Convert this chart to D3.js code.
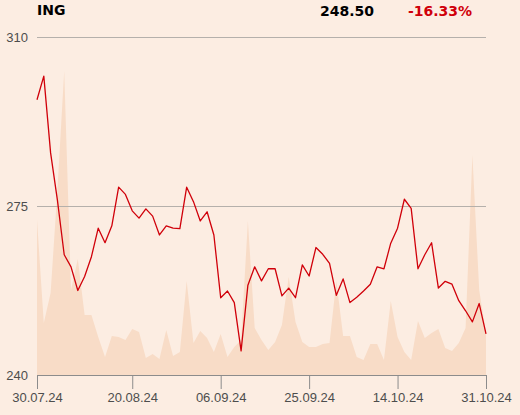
<!DOCTYPE html>
<html>
<head>
<meta charset="utf-8">
<script src="https://cdn.jsdelivr.net/npm/d3@7"></script>
<style>
  body { margin: 0; background: #fcede2; }
  svg { display: block; font-family: "DejaVu Sans", sans-serif; }
</style>
</head>
<body>
<svg id="chart" width="520" height="415"></svg>
<script>
// closing prices, one per trading day
const prices = [
  297.0, 301.9, 286.0, 276.2, 264.9, 262.4, 257.5, 260.4, 264.5, 270.4,
  267.4, 270.9, 278.9, 277.4, 274.0, 272.5, 274.4, 272.9, 269.0, 270.9,
  270.4, 270.3, 278.9, 275.9, 271.9, 273.8, 269.0, 256.0, 257.4, 255.0,
  245.0, 258.6, 262.4, 259.5, 262.0, 262.0, 256.4, 258.0, 256.0, 262.8,
  260.5, 266.4, 265.0, 263.1, 256.5, 259.9, 255.0, 256.1, 257.4, 258.8,
  262.4, 262.0, 267.3, 270.4, 276.4, 274.5, 262.0, 264.9, 267.4, 258.0,
  259.4, 258.8, 255.4, 253.3, 251.0, 254.8, 248.5
];
// traded volume (thousands)
const volumes = [
  1550, 520, 820, 1850, 3040, 850, 1160, 600, 600, 380,
  180, 390, 380, 350, 460, 430, 170, 210, 160, 450,
  190, 230, 940, 320, 440, 370, 230, 410, 180, 280,
  350, 1540, 470, 350, 250, 330, 500, 980, 530, 330,
  280, 280, 310, 320, 940, 390, 390, 180, 150, 310,
  310, 150, 740, 380, 230, 150, 540, 370, 420, 460,
  270, 240, 320, 470, 2200, 850, 420
];
const xTickIndex = [0, 14, 27, 40, 53, 66];
const xTickLabels = ["30.07.24", "20.08.24", "06.09.24", "25.09.24", "14.10.24", "31.10.24"];
const yTicks = [240, 275, 310];

const title = "ING";
const lastPrice = "248.50";
const change = "-16.33%";

const margin = { top: 37, right: 34, bottom: 40, left: 37 };
const width = 520 - margin.left - margin.right;
const height = 415 - margin.top - margin.bottom;

const svg = d3.select("#chart");
svg.append("rect").attr("width", 520).attr("height", 415).attr("fill", "#fcede2");

const g = svg.append("g").attr("transform", `translate(${margin.left},${margin.top})`);

const x = d3.scaleLinear().domain([0, prices.length - 1]).range([0, width]);
const y = d3.scaleLinear().domain([240, 310]).range([height, 0]);
const yVol = d3.scaleLinear().domain([0, 3380]).range([height, 0]);

// volume area
g.append("path")
  .datum(volumes)
  .attr("fill", "#f8dcc7")
  .attr("d", d3.area().x((d, i) => x(i)).y0(height).y1(d => yVol(d)));

// grid lines + y labels
const yAxis = d3.axisLeft(y).tickValues(yTicks).tickSize(-width).tickPadding(9);
g.append("g")
  .call(yAxis)
  .call(ax => ax.select(".domain").remove())
  .call(ax => ax.selectAll("line").attr("stroke", "#b5b0ab"))
  .call(ax => ax.selectAll("text").attr("fill", "#4d4d4d").attr("font-size", 13).attr("x", -9));

// x axis
const xAxis = d3.axisBottom(x)
  .tickValues(xTickIndex)
  .tickFormat((d, i) => xTickLabels[i])
  .tickSize(14).tickSizeOuter(0).tickPadding(10);
g.append("g")
  .attr("transform", `translate(0,${height})`)
  .call(xAxis)
  .call(ax => ax.select(".domain").attr("stroke", "#8c8c8c"))
  .call(ax => ax.selectAll("line").attr("stroke", "#8c8c8c"))
  .call(ax => ax.selectAll("text").attr("fill", "#4d4d4d").attr("font-size", 13).attr("dy", "0.2em"));

// price line
g.append("path")
  .datum(prices)
  .attr("fill", "none")
  .attr("stroke", "#d0000a")
  .attr("stroke-width", 1.3)
  .attr("stroke-linejoin", "round")
  .attr("d", d3.line().x((d, i) => x(i)).y(d => y(d)));

// header
svg.append("text").attr("x", 37).attr("y", 15)
  .attr("font-size", 14).attr("font-weight", "bold").attr("fill", "#000").text(title);
svg.append("text").attr("x", 374).attr("y", 16).attr("text-anchor", "end")
  .attr("font-size", 14).attr("font-weight", "bold").attr("fill", "#000").text(lastPrice);
svg.append("text").attr("x", 472).attr("y", 16).attr("text-anchor", "end")
  .attr("font-size", 14).attr("font-weight", "bold").attr("fill", "#d0000a").text(change);
</script>
</body>
</html>
